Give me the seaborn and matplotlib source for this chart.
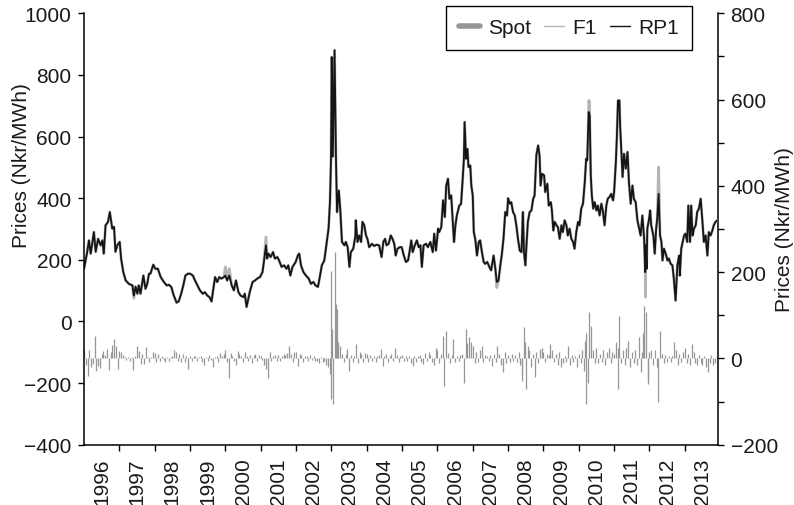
import numpy as np
import pandas as pd
import matplotlib
matplotlib.use("Agg")
import matplotlib.pyplot as plt
from matplotlib.lines import Line2D
from matplotlib.ticker import MultipleLocator
import seaborn as sns

# RP1 price (left axis), decimal years
rp1_year = [
    1996.00, 1996.09, 1996.14, 1996.19, 1996.28, 1996.33, 1996.40, 1996.47, 1996.52, 1996.56, 1996.61, 1996.68, 1996.73, 1996.80, 1996.85, 1996.89, 1996.94,
    1997.01, 1997.05, 1997.11, 1997.18, 1997.27, 1997.37, 1997.41, 1997.46, 1997.51, 1997.55, 1997.60, 1997.68, 1997.74, 1997.79, 1997.84, 1997.88, 1997.96,
    1998.02, 1998.09, 1998.17, 1998.26, 1998.34, 1998.40, 1998.47, 1998.54, 1998.62, 1998.68, 1998.75, 1998.81, 1998.87, 1998.94,
    1999.00, 1999.08, 1999.14, 1999.21, 1999.28, 1999.36, 1999.42, 1999.49, 1999.55, 1999.61, 1999.66, 1999.71, 1999.77, 1999.83, 1999.89, 1999.96,
    2000.00, 2000.05, 2000.11, 2000.18, 2000.24, 2000.30, 2000.37, 2000.43, 2000.51, 2000.55, 2000.60, 2000.65, 2000.69, 2000.77, 2000.84, 2000.90, 2000.98,
    2001.05, 2001.09, 2001.15, 2001.18, 2001.22, 2001.28, 2001.35, 2001.40, 2001.47, 2001.52, 2001.59, 2001.66, 2001.73, 2001.78, 2001.84, 2001.90, 2001.99,
    2002.05, 2002.09, 2002.14, 2002.21, 2002.28, 2002.36, 2002.42, 2002.49, 2002.55, 2002.62, 2002.68, 2002.73, 2002.80, 2002.87, 2002.92, 2002.96, 2002.99,
    2003.01, 2003.04, 2003.09, 2003.13, 2003.16, 2003.21, 2003.25, 2003.30, 2003.37, 2003.41, 2003.46, 2003.51, 2003.55, 2003.62, 2003.68, 2003.69, 2003.74, 2003.79, 2003.84, 2003.88, 2003.93, 2003.98,
    2004.02, 2004.07, 2004.15, 2004.21, 2004.28, 2004.35, 2004.42, 2004.47, 2004.52, 2004.56, 2004.62, 2004.68, 2004.73, 2004.78, 2004.82, 2004.87, 2004.94, 2004.99,
    2005.05, 2005.11, 2005.17, 2005.21, 2005.26, 2005.30, 2005.36, 2005.42, 2005.47, 2005.52, 2005.56, 2005.61, 2005.68, 2005.73, 2005.80, 2005.87, 2005.91, 2005.96,
    2006.02, 2006.05, 2006.11, 2006.16, 2006.21, 2006.25, 2006.30, 2006.34, 2006.39, 2006.43, 2006.47, 2006.51, 2006.55, 2006.62, 2006.67, 2006.71, 2006.75, 2006.77, 2006.81, 2006.85, 2006.88, 2006.93, 2006.96,
    2007.00, 2007.03, 2007.07, 2007.12, 2007.17, 2007.21, 2007.26, 2007.31, 2007.35, 2007.41, 2007.47, 2007.52, 2007.59, 2007.64, 2007.68, 2007.73, 2007.78, 2007.82, 2007.87, 2007.92, 2007.97,
    2008.00, 2008.05, 2008.09, 2008.14, 2008.19, 2008.24, 2008.28, 2008.33, 2008.38, 2008.42, 2008.45, 2008.49, 2008.52, 2008.56, 2008.61, 2008.66, 2008.71, 2008.75, 2008.80, 2008.85, 2008.89, 2008.92, 2008.96,
    2009.02, 2009.05, 2009.11, 2009.15, 2009.21, 2009.24, 2009.28, 2009.32, 2009.37, 2009.41, 2009.46, 2009.51, 2009.55, 2009.60, 2009.65, 2009.69, 2009.74, 2009.79, 2009.84, 2009.88, 2009.93, 2009.98,
    2010.02, 2010.07, 2010.12, 2010.17, 2010.21, 2010.24, 2010.28, 2010.31, 2010.34, 2010.37, 2010.41, 2010.45, 2010.50, 2010.54, 2010.59, 2010.64, 2010.68, 2010.73, 2010.78, 2010.82, 2010.87, 2010.92, 2010.97,
    2011.00, 2011.05, 2011.08, 2011.11, 2011.15, 2011.17, 2011.21, 2011.24, 2011.28, 2011.33, 2011.38, 2011.42, 2011.47, 2011.52, 2011.56, 2011.61, 2011.66, 2011.71, 2011.75, 2011.80, 2011.85, 2011.88, 2011.90, 2011.92, 2011.94, 2011.99,
    2012.02, 2012.05, 2012.11, 2012.15, 2012.19, 2012.22, 2012.26, 2012.30, 2012.34, 2012.37, 2012.41, 2012.46, 2012.51, 2012.55, 2012.60, 2012.65, 2012.69, 2012.74, 2012.79, 2012.84, 2012.86, 2012.90, 2012.94, 2012.98,
    2013.02, 2013.07, 2013.10, 2013.15, 2013.18, 2013.22, 2013.26, 2013.31, 2013.35, 2013.40, 2013.45, 2013.50, 2013.54, 2013.59, 2013.64, 2013.68, 2013.73, 2013.78, 2013.82, 2013.87, 2013.92,
]
rp1_price = [
    171, 225, 263, 220, 290, 226, 268, 247, 263, 220, 312, 323, 355, 301, 307, 226, 247,
    258, 204, 161, 133, 122, 117, 84, 113, 90, 117, 90, 149, 106, 122, 155, 155, 184,
    171, 171, 144, 128, 117, 119, 112, 84, 61, 65, 90, 117, 149, 155,
    155, 149, 133, 117, 101, 90, 95, 84, 79, 65, 106, 144, 128, 144, 139, 144,
    149, 133, 149, 117, 101, 133, 95, 84, 79, 90, 47, 74, 95, 128, 133, 139, 144,
    160, 193, 247, 204, 220, 209, 225, 204, 209, 198, 177, 182, 171, 182, 149, 177, 193,
    214, 220, 182, 160, 149, 139, 122, 128, 117, 112, 149, 182, 198, 258, 301, 387, 528,
    858, 535, 880, 528, 355, 425, 366, 258, 247, 258, 241, 177, 225, 236, 279, 328, 258, 279, 258, 323, 312, 279,
    268, 241, 252, 245, 249, 247, 209, 258, 268, 247, 252, 279, 268, 252, 214, 236, 241, 241,
    214, 193, 198, 225, 263, 225, 247, 263, 241, 247, 177, 247, 252, 241, 258, 225, 285, 230,
    301, 290, 306, 393, 339, 441, 463, 398, 409, 333, 258, 312, 344, 376, 382, 452, 528, 647, 528, 560, 501, 506, 441,
    409, 290, 268, 214, 258, 263, 225, 193, 187, 193, 177, 166, 214, 171, 128, 133, 182, 214, 268, 355, 344,
    400, 382, 387, 355, 344, 306, 268, 230, 225, 355, 225, 182, 247, 323, 355, 360, 398, 409, 539, 571, 539, 441, 479,
    474, 420, 447, 376, 387, 360, 295, 323, 312, 306, 268, 312, 290, 328, 312, 279, 301, 268, 258, 236, 290, 323,
    312, 366, 382, 452, 528, 523, 680, 669, 474, 409, 366, 387, 360, 376, 344, 382, 360, 312, 376, 398, 404, 414, 393,
    420, 517, 604, 717, 717, 636, 539, 469, 544, 496, 550, 452, 382, 441, 398, 387, 328, 301, 279, 344, 268, 160, 247, 171, 301, 333,
    360, 312, 279, 220, 301, 333, 414, 279, 258, 198, 236, 220, 198, 204, 187, 182, 139, 68, 182, 214, 149, 236, 258, 279,
    285, 258, 376, 258, 376, 279, 301, 312, 355, 366, 398, 323, 258, 279, 214, 290, 279, 295, 312, 323, 328,
]

# F1 follows RP1 except where the grey line sticks out
f1_dev_year = [1997.41, 2000.00, 2000.11, 2001.15, 2007.68, 2010.29, 2011.89, 2012.26]
f1_dev_price = [75, 177, 171, 274, 110, 717, 79, 501]

# Spot changes (right axis), one bar every 0.05 year from 1996.0
spot_start = 1996.0
spot_step = 0.05
spot_change = [
    20, -15, -40, 20, -20, -12, 52, -30, -18, -22, 10, 18, 8, 22, -28, 14, 30, 46, 28, -25,
    18, 14, 8, 4, -4, 3, -6, 4, -28, 5, 29, 18, -13, 10, -12, 26, 3, -8, 4, 15,
    13, -8, 10, -5, 6, -4, -9, 4, -5, 3, 6, 20, 14, -6, 10, -8, 10, -9, 6, -24,
    6, -5, 5, 6, -6, 4, 5, -8, -15, 3, -5, 8, -4, -20, 4, 6, -8, 12, 5, 10,
    20, -8, -45, 12, 5, -6, -16, 18, 10, 5, -8, 14, 5, -5, 8, -10, 8, 10, -5, 8,
    6, -4, -15, -25, -45, 15, -6, 6, 8, -5, 8, -5, 5, 10, 8, 12, 28, 10, -8, 14,
    15, -18, 10, 8, -8, 5, 6, -5, 8, -3, 5, -6, -5, -10, 4, -8, -6, -15, -20, -35,
    203, -106, 246, 114, 37, 29, 10, -8, 10, 22, -29, 8, -8, 5, 33, -10, 15, 10, -8, 12,
    10, -8, 8, -5, 5, -8, 6, 8, 22, -18, 5, 10, -8, 5, 10, -5, 25, 8, -8, 5,
    8, -5, 5, -5, 6, -10, -17, 5, -8, 6, 8, -8, -12, 12, -5, 15, 8, -8, -15, 25,
    20, -10, 10, 52, -63, 64, 12, -10, 8, 45, -8, 5, -5, 8, 10, -56, 68, 35, 49, 37,
    28, -10, 15, -8, 20, 29, -8, 8, 5, -5, 8, -17, 10, -8, 29, 10, -15, -32, 15, -10,
    8, -8, 10, -5, 8, -8, 15, -15, -52, 72, -71, 28, 20, -20, 10, -44, 15, -10, 22, 25,
    15, -8, 10, 8, 33, 20, -8, 10, -15, 15, -20, -10, 5, -8, 29, -15, 8, -8, 5, -20,
    10, -10, 20, -30, -106, -56, 107, 76, 20, -10, 25, -10, 10, -8, 20, -15, 15, 25, -10, 15,
    10, 37, -71, 99, -10, 20, -15, 25, 41, -20, 15, -10, 20, -15, 49, -32, 15, 122, 107, -59,
    15, 20, -15, 20, -20, -102, 64, 10, -10, 8, -8, 5, -8, 5, 37, 20, -15, 10, -8, 15,
    25, -10, 10, -15, 33, 15, -10, -15, 8, -10, -15, 5, -21, -32, -10, 8, -15, -10, 5,
]
spot_extra_year = [2002.99, 2003.03, 2003.12, 2003.15, 2008.40, 2008.47, 2010.17, 2010.21, 2011.10, 2011.83, 2011.95]
spot_extra_change = [-94, 68, 126, 40, -36, 37, 40, 60, 25, 60, -50]

years = list(range(1996, 2014))

sns.set_theme(style="ticks")
plt.rcParams["font.family"] = ["Liberation Sans", "DejaVu Sans"]
plt.rcParams.update({
    "axes.edgecolor": "black", "xtick.color": "black", "ytick.color": "black",
    "text.color": "#1a1a1a", "axes.labelcolor": "#1a1a1a",
    "xtick.labelcolor": "#1a1a1a", "ytick.labelcolor": "#1a1a1a",
})

rp1 = pd.DataFrame({"year": rp1_year, "price": rp1_price})
f1 = pd.concat([rp1, pd.DataFrame({"year": f1_dev_year, "price": f1_dev_price})])
f1 = f1.drop_duplicates("year", keep="last").sort_values("year")
spot = pd.DataFrame({
    "year": np.r_[spot_start + spot_step * np.arange(len(spot_change)), spot_extra_year],
    "change": spot_change + spot_extra_change,
})

fig = plt.figure(figsize=(7.94, 5.06), dpi=100)
ax = fig.add_axes([84 / 794, 1 - 445.7 / 506, 634 / 794, 431.4 / 506])
ax2 = ax.twinx()

spot_col = "#969696"
f1_col = "#b5b5b5"
rp1_col = "#151515"

ax2.vlines(spot["year"], 0, spot["change"], color=spot_col, lw=0.9)
sns.lineplot(data=f1, x="year", y="price", ax=ax, color=f1_col, lw=2.0, estimator=None)
sns.lineplot(data=rp1, x="year", y="price", ax=ax, color=rp1_col, lw=1.3, estimator=None)

ax.set_zorder(ax2.get_zorder() + 1)
ax.patch.set_visible(False)

ax.set_xlim(1996, 2013.94)
ax.set_ylim(-400, 1000)
ax2.set_ylim(-200, 800)

ax.set_yticks(range(-400, 1001, 200))
ax2.set_yticks(range(-200, 801, 200))
ax2.yaxis.set_minor_locator(MultipleLocator(100))
ax.set_xticks(years[1:], labels=[""] * (len(years) - 1))
ax.set_xticks([y + 0.5 for y in years], labels=[str(y) for y in years], minor=True, rotation=90)

ax.tick_params(axis="x", which="major", length=4, width=1, direction="out")
ax.tick_params(axis="x", which="minor", length=0, pad=9, labelsize=15)
ax.tick_params(axis="y", length=4, width=1, pad=5, labelsize=15)
ax2.tick_params(axis="y", which="both", length=4, width=1, pad=5, labelsize=15)

for a in (ax, ax2):
    a.spines["top"].set_visible(False)
    for s in a.spines.values():
        s.set_linewidth(1.1)
ax.spines["right"].set_visible(False)
ax2.spines["left"].set_visible(False)
ax2.spines["bottom"].set_visible(False)

ax.set_xlabel("")
ax.set_ylabel("Prices (Nkr/MWh)", fontsize=15)
ax.yaxis.set_label_coords(-0.084, 0.65)
ax2.set_ylabel("Prices (Nkr/MWh)", fontsize=15, rotation=90)
ax2.yaxis.set_label_coords(1.09, 0.5)

handles = [
    Line2D([], [], color=spot_col, lw=4),
    Line2D([], [], color=f1_col, lw=1),
    Line2D([], [], color=rp1_col, lw=1),
]
leg = fig.legend(handles, ["Spot", "F1", "RP1"], loc="upper right",
                 bbox_to_anchor=(692 / 794, 1 - 7 / 506), ncol=3, fontsize=15,
                 handlelength=1.0, handletextpad=0.4, columnspacing=0.6,
                 frameon=True, fancybox=False, framealpha=1, edgecolor="black",
                 borderpad=0.6, borderaxespad=0)
leg.get_frame().set_linewidth(1.0)

fig.savefig("out.png", dpi=100)
